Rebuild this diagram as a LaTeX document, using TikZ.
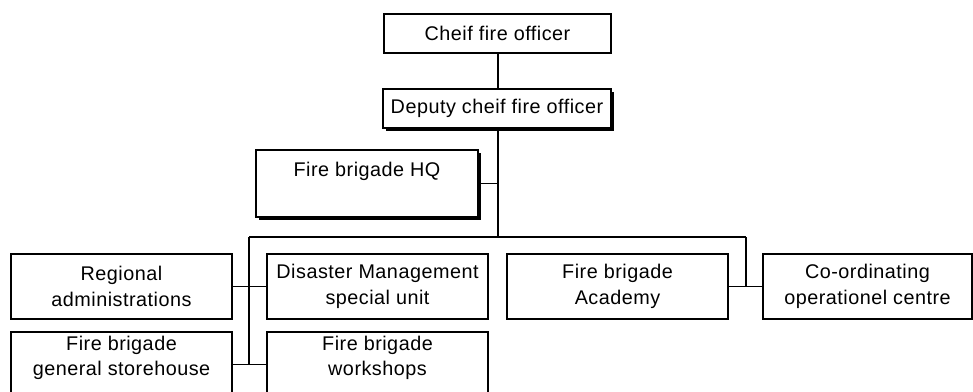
\documentclass[tikz,border=0pt]{standalone}
\usepackage{fontspec}
\setmainfont[LetterSpace=2.5]{Liberation Sans}
\usetikzlibrary{shadows}
\begin{document}
\begin{tikzpicture}[x=1pt,y=-1pt,
  box/.style={draw, line width=1.4pt, fill=white, inner sep=0pt, align=center,
    font=\fontsize{19.8}{25.5}\selectfont},
  txt/.style={inner sep=0pt, align=center, font=\fontsize{19.8}{25.5}\selectfont},
  shad/.style={drop shadow={shadow xshift=3.2pt, shadow yshift=-3.2pt, fill=black, opacity=1}},
  link/.style={line width=1.4pt}]
\useasboundingbox (0,0) rectangle (973,391);
\clip (0,0) rectangle (973,391);
% boxes
\node[box, minimum width=227pt, minimum height=39pt] (chief) at (497.5,33.5) {Cheif fire officer};
\node[box, shad, minimum width=228pt, minimum height=39pt] (dep) at (497,108.5) {Deputy cheif fire officer};
\node[box, shad, minimum width=222pt, minimum height=67pt] (hq) at (367,183.5) {};
\node[txt] (hqT) at (367,171) {Fire brigade HQ};
\node[box, minimum width=221pt, minimum height=65pt] (reg) at (121.5,286.5) {Regional\\administrations};
\node[box, minimum width=221pt, minimum height=65pt] (dis) at (377.5,286.5) {Disaster Management\\special unit};
\node[box, minimum width=221pt, minimum height=65pt] (aca) at (617.5,286.5) {Fire brigade\\Academy};
\node[box, minimum width=209pt, minimum height=65pt] (coo) at (867.5,286.5) {Co-ordinating\\operationel centre};
\node[box, minimum width=221pt, minimum height=65pt] (sto) at (121.5,364.5) {};
\node[txt] (stoT) at (121.5,358) {Fire brigade\\general storehouse};
\node[box, minimum width=221pt, minimum height=65pt] (wor) at (377.5,364.5) {};
\node[txt] (worT) at (377.5,358) {Fire brigade\\workshops};
% bus coordinates
\coordinate (busM) at (498,237);
\coordinate (busL) at (249,237);
\coordinate (busR) at (746,237);
% connectors
\draw[link] (chief.south -| busM) -- (dep.north -| busM);
\draw[link] (dep.south -| busM) -- (busM);
\draw[link] (hq.east) -- (hq.east -| busM);
\draw[link] (busL) -- (busR);
\draw[link] (busL) -- (busL |- sto.east);
\draw[link] (reg.east) -- (dis.west);
\draw[link] (sto.east) -- (wor.west);
\draw[link] (busR) -- (busR |- aca.east);
\draw[link] (aca.east) -- (coo.west);
\end{tikzpicture}
\end{document}
